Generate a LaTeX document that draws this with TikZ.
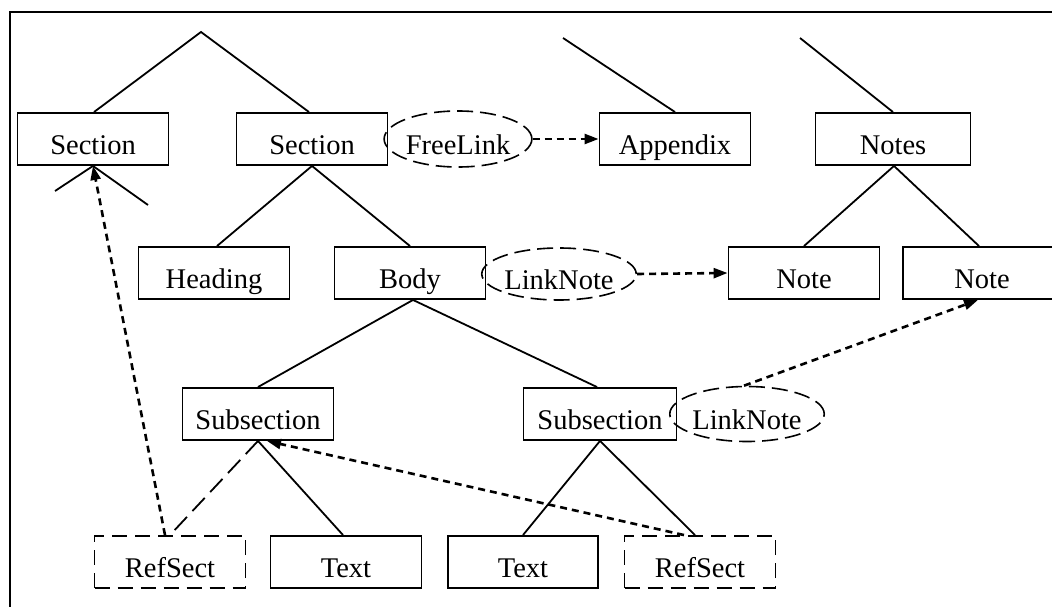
\documentclass[tikz,border=0pt]{standalone}
\usepackage{fontspec}
\setmainfont{Liberation Serif}
\usetikzlibrary{arrows.meta,shapes.geometric}
\begin{document}
\begin{tikzpicture}[x=1pt,y=-1pt,
  every node/.style={font=\fontsize{28.5}{30}\selectfont,text height=30pt,text depth=0pt},
  box/.style={draw,line width=1.9pt,minimum width=151pt,minimum height=52pt,inner sep=0pt},
  dbox/.style={box,dash pattern=on 15pt off 8pt},
  link/.style={draw,ellipse,line width=1.6pt,dash pattern=on 16pt off 7pt,inner sep=0pt},
  tree/.style={line width=1.8pt},
  ltree/.style={line width=1.8pt,dash pattern=on 18pt off 8pt},
  ref/.style={line width=2.6pt,dash pattern=on 7pt off 5pt,-{Triangle[length=14pt,width=10pt]}}]
\useasboundingbox (0,0) rectangle (1052,607);
\begin{scope}
\clip (0,0) rectangle (1052,607);
\draw[line width=1.8pt] (10,640) -- (10,12) -- (1100,12);
% row 1
\node[box] (sec1) at (93,139) {Section};
\node[box] (sec2) at (312,139) {Section};
\node[link,minimum width=138pt,minimum height=56pt] (fl) at (458,139) {FreeLink};
\node[box] (app) at (675,139) {Appendix};
\node[box,minimum width=155pt] (notes) at (893,139) {Notes};
% row 2
\node[box] (head) at (214,273) {Heading};
\node[box] (body) at (410,273) {Body};
\node[link,minimum width=143pt,minimum height=52pt] (ln1) at (559,274) {LinkNote};
\node[box] (note1) at (804,273) {Note};
\node[box,minimum width=158pt] (note2) at (982,273) {Note};
% row 3
\node[box] (sub1) at (258,414) {Subsection};
\node[box,minimum width=153pt] (sub2) at (600,414) {Subsection};
\node[link,minimum width=141pt,minimum height=55pt] (ln2) at (747,414) {LinkNote};
% row 4
\node[dbox] (rs1) at (170,562) {RefSect};
\node[box] (txt1) at (346,562) {Text};
\node[box,minimum width=150pt] (txt2) at (523,562) {Text};
\node[dbox] (rs2) at (700,562) {RefSect};
% free ends
\coordinate (apex) at (201,32);
\coordinate (appup) at (563,38);
\coordinate (notesup) at (800,38);
\coordinate (s1l) at (55,191);
\coordinate (s1r) at (148,205);
% tree lines
\draw[tree] ([xshift=1pt]sec1.north) -- (apex) -- ([xshift=-3pt]sec2.north);
\draw[tree] (s1l) -- (sec1.south) -- (s1r);
\draw[tree] (appup) -- (app.north);
\draw[tree] (notesup) -- (notes.north);
\draw[tree] (note1.north) -- ([xshift=1pt]notes.south) -- ([xshift=-3pt]note2.north);
\draw[tree] ([xshift=3pt]head.north) -- (sec2.south) -- (body.north);
\draw[tree] (sub1.north) -- ([xshift=3pt]body.south) -- ([xshift=-3pt]sub2.north);
\draw[ltree] (sub1.south) -- (rs1.north);
\draw[tree] (sub1.south) -- ([xshift=-3pt]txt1.north);
\draw[tree] (txt2.north) -- (sub2.south) -- ([xshift=-5pt]rs2.north);
% references
\draw[ref] (fl.east) -- (app.west);
\draw[ref] (ln1.east) -- (note1.west);
\draw[ref] ([xshift=-3pt]ln2.north) -- ([xshift=-4pt]note2.south);
\draw[ref] ([xshift=-5pt]rs1.north) -- (sec1.south);
\draw[ref] ([xshift=-16pt]rs2.north) -- ([xshift=9pt]sub1.south);
\end{scope}
\end{tikzpicture}
\end{document}
